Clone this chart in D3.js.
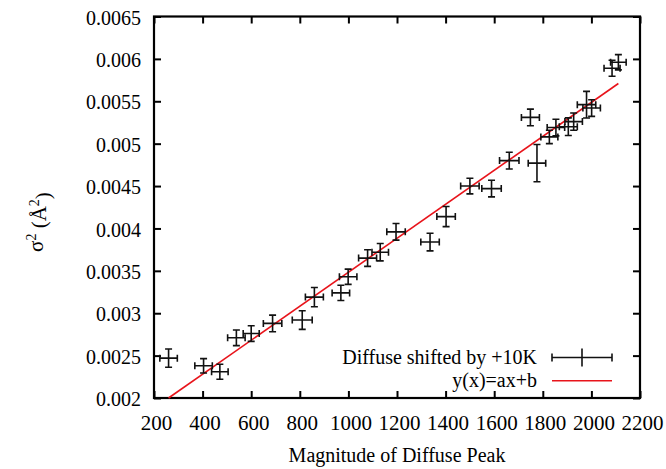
<!DOCTYPE html>
<html>
<head>
<meta charset="utf-8">
<script src="https://cdn.jsdelivr.net/npm/d3@7"></script>
<style>
	body { margin: 0; background: #fff; }
	text { font-family: "Liberation Serif", "DejaVu Serif", serif; fill: #000; }
</style>
</head>
<body>
<div id="chart"></div>
<script>
// peak magnitude, sigma^2 and their errors
const peakX = [260, 404, 471, 539, 600, 688, 810, 860, 969, 999, 1079, 1131, 1196, 1336, 1402,
	1500, 1589, 1662, 1749, 1776, 1827, 1854, 1905, 1927, 1980, 2001, 2085, 2111];
const sigma2 = [0.00247, 0.00238, 0.00231, 0.00271, 0.00276, 0.00288, 0.00292, 0.00319, 0.00324, 0.00343,
	0.00365, 0.00372, 0.00396, 0.00384, 0.00414, 0.0045, 0.00447, 0.0048, 0.00531, 0.00477,
	0.00508, 0.00519, 0.0052, 0.00526, 0.00546, 0.00542, 0.00589, 0.00596];
const xErr = [36, 36, 34, 36, 33, 38, 41, 37, 36, 36, 37, 34, 38, 38, 38,
	38, 40, 40, 37, 36, 35, 36, 37, 36, 38, 36, 33, 32];
const yErr = [0.000108, 0.000085, 0.000088, 0.000092, 0.000092, 0.000098, 0.00011, 0.000114, 0.00009, 0.00009,
	0.000098, 0.000102, 0.000098, 0.000104, 0.000118, 0.000092, 0.000098, 0.000098, 0.000098, 0.00022,
	0.000079, 0.000098, 0.000104, 0.000102, 0.000157, 0.000098, 0.000094, 0.00009];

// linear fit y(x)=ax+b
const fitA = 2.004e-6;
const fitB = 0.001479;
const fitRange = [260, 2111];

const xTicks = [200, 400, 600, 800, 1000, 1200, 1400, 1600, 1800, 2000, 2200];
const yTicks = [0.002, 0.0025, 0.003, 0.0035, 0.004, 0.0045, 0.005, 0.0055, 0.006, 0.0065];
const legendLabels = ["Diffuse shifted by +10K", "y(x)=ax+b"];

const margin = { top: 16.5, right: 26, bottom: 71, left: 154 };
const width = 666 - margin.left - margin.right;
const height = 469 - margin.top - margin.bottom;

const svg = d3
	.select("#chart")
	.append("svg")
	.attr("width", 666)
	.attr("height", 469)
	.append("g")
	.attr("transform", `translate(${margin.left}, ${margin.top})`);

const x = d3.scaleLinear().domain([200, 2200]).range([0, width]);
const y = d3.scaleLinear().domain([0.002, 0.0065]).range([height, 0]);

// axes, ticks pointing inwards, mirrored on top and right
const bottom = svg
	.append("g")
	.attr("transform", `translate(0, ${height})`)
	.call(d3.axisBottom(x).tickValues(xTicks).tickFormat(d3.format("d")).tickSizeInner(-7).tickSizeOuter(0).tickPadding(17));
bottom.selectAll("text").style("font-size", "21px").attr("dx", 2);

const left = svg
	.append("g")
	.call(d3.axisLeft(y).tickValues(yTicks).tickFormat((d) => String(+d.toFixed(4))).tickSizeInner(-7).tickSizeOuter(0).tickPadding(13));
left.selectAll("text").style("font-size", "20px").attr("dy", "0.38em");

svg.append("g").call(d3.axisTop(x).tickValues(xTicks).tickFormat("").tickSizeInner(-7).tickSizeOuter(0));
svg
	.append("g")
	.attr("transform", `translate(${width}, 0)`)
	.call(d3.axisRight(y).tickValues(yTicks).tickFormat("").tickSizeInner(-7).tickSizeOuter(0));

svg.selectAll(".domain").remove();
svg.selectAll(".tick line").attr("stroke", "#000").attr("stroke-width", 2);

svg
	.append("rect")
	.attr("width", width)
	.attr("height", height)
	.attr("fill", "none")
	.attr("stroke", "#000")
	.attr("stroke-width", 2.2);

// fit line
const fitLine = d3
	.line()
	.x((d) => x(d))
	.y((d) => y(fitA * d + fitB));
svg
	.append("path")
	.datum(fitRange)
	.attr("d", fitLine)
	.attr("fill", "none")
	.attr("stroke", "#e8141b")
	.attr("stroke-width", 1.6);

// error bars
const points = peakX.map((px, i) => ({ x: px, y: sigma2[i], dx: xErr[i], dy: yErr[i] }));
const cap = 3.5;
const bars = svg
	.selectAll(".pt")
	.data(points)
	.join("g")
	.attr("class", "pt")
	.attr("stroke", "#111")
	.attr("stroke-width", 1.6);
bars
	.append("path")
	.attr("fill", "none")
	.attr("d", function (d) {
		const cx = x(d.x);
		const cy = y(d.y);
		const x0 = x(d.x - d.dx);
		const x1 = x(d.x + d.dx);
		const y0 = y(d.y - d.dy);
		const y1 = y(d.y + d.dy);
		return (
			`M${x0},${cy}H${x1}` +
			`M${x0},${cy - cap}V${cy + cap}M${x1},${cy - cap}V${cy + cap}` +
			`M${cx},${y0}V${y1}` +
			`M${cx - cap},${y0}H${cx + cap}M${cx - cap},${y1}H${cx + cap}`
		);
	});

// legend
const legX = 537 - margin.left;
const row1 = 357.5 - margin.top;
const row2 = 380.7 - margin.top;
svg
	.append("text")
	.attr("x", legX)
	.attr("y", row1)
	.attr("dy", "0.33em")
	.attr("text-anchor", "end")
	.style("font-size", "20px")
	.text(legendLabels[0]);
svg
	.append("text")
	.attr("x", legX)
	.attr("y", row2)
	.attr("dy", "0.33em")
	.attr("text-anchor", "end")
	.style("font-size", "20px")
	.text(legendLabels[1]);
const sx0 = 552 - margin.left;
const sx1 = 612 - margin.left;
svg
	.append("path")
	.attr("fill", "none")
	.attr("stroke", "#111")
	.attr("stroke-width", 1.6)
	.attr("d", `M${sx0},${row1}H${sx1}M${sx0},${row1 - 4}V${row1 + 4}M${sx1},${row1 - 4}V${row1 + 4}M${(sx0 + sx1) / 2},${row1 - 9}V${row1 + 9}`);
svg
	.append("line")
	.attr("x1", sx0)
	.attr("x2", sx1)
	.attr("y1", row2)
	.attr("y2", row2)
	.attr("stroke", "#e8141b")
	.attr("stroke-width", 1.6);

// axis titles
svg
	.append("text")
	.attr("x", width / 2)
	.attr("y", 455 - margin.top)
	.attr("dy", "0.33em")
	.attr("text-anchor", "middle")
	.style("font-size", "20px")
	.text("Magnitude of Diffuse Peak");

const yTitle = svg
	.append("text")
	.attr("transform", `translate(${36 - margin.left}, ${222 - margin.top}) rotate(-90)`)
	.attr("text-anchor", "middle")
	.attr("dy", "0.33em")
	.style("font-size", "21px");
yTitle.append("tspan").text("σ");
yTitle.append("tspan").attr("dy", "-0.5em").style("font-size", "14px").text("2");
yTitle.append("tspan").attr("dy", "0.5em").text(" (Å");
yTitle.append("tspan").attr("dy", "-0.5em").style("font-size", "14px").text("2");
yTitle.append("tspan").attr("dy", "0.5em").text(")");
</script>
</body>
</html>
